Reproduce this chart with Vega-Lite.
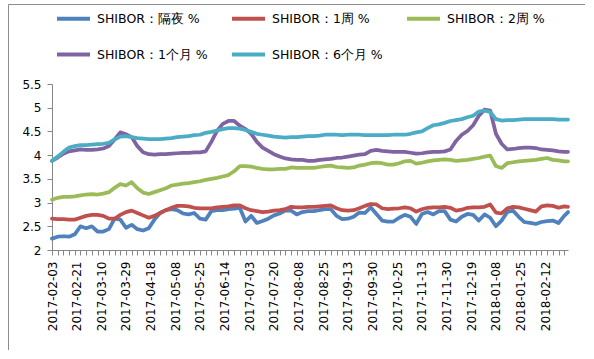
{
  "$schema": "https://vega.github.io/schema/vega-lite/v6.json",
  "width": 577,
  "height": 346,
  "autosize": "none",
  "padding": {"left": 8, "top": 4, "right": 0, "bottom": 0},
  "background": "white",
  "config": {
    "font": "DejaVu Sans",
    "view": {"stroke": "#8c8c8c", "strokeWidth": 1}
  },
  "data": {
    "values": [
      {"d": 0, "on": 2.24, "w1": 2.66, "w2": 3.06, "m1": 3.88, "m6": 3.88},
      {"d": 3, "on": 2.28, "w1": 2.65, "w2": 3.10, "m1": 3.95, "m6": 3.97},
      {"d": 6, "on": 2.29, "w1": 2.65, "w2": 3.12, "m1": 4.03, "m6": 4.07},
      {"d": 9, "on": 2.28, "w1": 2.64, "w2": 3.12, "m1": 4.08, "m6": 4.16},
      {"d": 12, "on": 2.33, "w1": 2.64, "w2": 3.13, "m1": 4.10, "m6": 4.19},
      {"d": 15, "on": 2.50, "w1": 2.68, "w2": 3.15, "m1": 4.12, "m6": 4.21},
      {"d": 18, "on": 2.46, "w1": 2.72, "w2": 3.17, "m1": 4.11, "m6": 4.21},
      {"d": 21, "on": 2.50, "w1": 2.74, "w2": 3.18, "m1": 4.11, "m6": 4.22},
      {"d": 24, "on": 2.39, "w1": 2.74, "w2": 3.17, "m1": 4.12, "m6": 4.23},
      {"d": 27, "on": 2.39, "w1": 2.72, "w2": 3.19, "m1": 4.14, "m6": 4.24},
      {"d": 30, "on": 2.44, "w1": 2.66, "w2": 3.22, "m1": 4.19, "m6": 4.26},
      {"d": 33, "on": 2.66, "w1": 2.66, "w2": 3.31, "m1": 4.33, "m6": 4.33},
      {"d": 36, "on": 2.64, "w1": 2.74, "w2": 3.39, "m1": 4.48, "m6": 4.39},
      {"d": 39, "on": 2.47, "w1": 2.80, "w2": 3.36, "m1": 4.44, "m6": 4.40},
      {"d": 42, "on": 2.53, "w1": 2.83, "w2": 3.43, "m1": 4.38, "m6": 4.38},
      {"d": 45, "on": 2.44, "w1": 2.78, "w2": 3.30, "m1": 4.19, "m6": 4.36},
      {"d": 48, "on": 2.41, "w1": 2.73, "w2": 3.21, "m1": 4.06, "m6": 4.35},
      {"d": 51, "on": 2.46, "w1": 2.68, "w2": 3.18, "m1": 4.02, "m6": 4.34},
      {"d": 54, "on": 2.64, "w1": 2.72, "w2": 3.22, "m1": 4.01, "m6": 4.34},
      {"d": 57, "on": 2.78, "w1": 2.78, "w2": 3.26, "m1": 4.02, "m6": 4.34},
      {"d": 60, "on": 2.84, "w1": 2.84, "w2": 3.30, "m1": 4.02, "m6": 4.35},
      {"d": 63, "on": 2.86, "w1": 2.89, "w2": 3.36, "m1": 4.03, "m6": 4.36},
      {"d": 66, "on": 2.84, "w1": 2.93, "w2": 3.38, "m1": 4.04, "m6": 4.38},
      {"d": 69, "on": 2.77, "w1": 2.93, "w2": 3.40, "m1": 4.05, "m6": 4.39},
      {"d": 72, "on": 2.75, "w1": 2.92, "w2": 3.41, "m1": 4.05, "m6": 4.40},
      {"d": 75, "on": 2.78, "w1": 2.89, "w2": 3.43, "m1": 4.06, "m6": 4.42},
      {"d": 78, "on": 2.66, "w1": 2.88, "w2": 3.45, "m1": 4.06, "m6": 4.43},
      {"d": 81, "on": 2.64, "w1": 2.88, "w2": 3.48, "m1": 4.08, "m6": 4.47},
      {"d": 84, "on": 2.82, "w1": 2.88, "w2": 3.50, "m1": 4.28, "m6": 4.49},
      {"d": 87, "on": 2.84, "w1": 2.90, "w2": 3.52, "m1": 4.51, "m6": 4.52},
      {"d": 90, "on": 2.84, "w1": 2.91, "w2": 3.55, "m1": 4.66, "m6": 4.55},
      {"d": 93, "on": 2.86, "w1": 2.92, "w2": 3.58, "m1": 4.72, "m6": 4.57},
      {"d": 96, "on": 2.87, "w1": 2.94, "w2": 3.66, "m1": 4.72, "m6": 4.57},
      {"d": 99, "on": 2.89, "w1": 2.94, "w2": 3.77, "m1": 4.62, "m6": 4.56},
      {"d": 102, "on": 2.60, "w1": 2.88, "w2": 3.77, "m1": 4.55, "m6": 4.53},
      {"d": 105, "on": 2.72, "w1": 2.84, "w2": 3.76, "m1": 4.45, "m6": 4.49},
      {"d": 108, "on": 2.57, "w1": 2.82, "w2": 3.73, "m1": 4.28, "m6": 4.45},
      {"d": 111, "on": 2.61, "w1": 2.80, "w2": 3.71, "m1": 4.16, "m6": 4.43},
      {"d": 114, "on": 2.66, "w1": 2.81, "w2": 3.70, "m1": 4.09, "m6": 4.41},
      {"d": 117, "on": 2.73, "w1": 2.83, "w2": 3.70, "m1": 4.02, "m6": 4.39},
      {"d": 120, "on": 2.77, "w1": 2.84, "w2": 3.71, "m1": 3.97, "m6": 4.38},
      {"d": 123, "on": 2.83, "w1": 2.86, "w2": 3.71, "m1": 3.93, "m6": 4.37},
      {"d": 126, "on": 2.83, "w1": 2.91, "w2": 3.74, "m1": 3.91, "m6": 4.38},
      {"d": 129, "on": 2.75, "w1": 2.90, "w2": 3.73, "m1": 3.90, "m6": 4.38},
      {"d": 132, "on": 2.80, "w1": 2.90, "w2": 3.73, "m1": 3.90, "m6": 4.39},
      {"d": 135, "on": 2.82, "w1": 2.91, "w2": 3.73, "m1": 3.88, "m6": 4.40},
      {"d": 138, "on": 2.82, "w1": 2.91, "w2": 3.73, "m1": 3.88, "m6": 4.40},
      {"d": 141, "on": 2.84, "w1": 2.92, "w2": 3.75, "m1": 3.90, "m6": 4.41},
      {"d": 144, "on": 2.86, "w1": 2.93, "w2": 3.77, "m1": 3.91, "m6": 4.43},
      {"d": 147, "on": 2.86, "w1": 2.94, "w2": 3.78, "m1": 3.92, "m6": 4.43},
      {"d": 150, "on": 2.72, "w1": 2.88, "w2": 3.75, "m1": 3.94, "m6": 4.43},
      {"d": 153, "on": 2.65, "w1": 2.84, "w2": 3.74, "m1": 3.95, "m6": 4.42},
      {"d": 156, "on": 2.66, "w1": 2.83, "w2": 3.73, "m1": 3.97, "m6": 4.43},
      {"d": 159, "on": 2.70, "w1": 2.84, "w2": 3.74, "m1": 3.99, "m6": 4.43},
      {"d": 162, "on": 2.79, "w1": 2.88, "w2": 3.78, "m1": 4.01, "m6": 4.43},
      {"d": 165, "on": 2.78, "w1": 2.93, "w2": 3.80, "m1": 4.02, "m6": 4.42},
      {"d": 168, "on": 2.90, "w1": 2.97, "w2": 3.83, "m1": 4.09, "m6": 4.42},
      {"d": 171, "on": 2.76, "w1": 2.96, "w2": 3.84, "m1": 4.11, "m6": 4.42},
      {"d": 174, "on": 2.62, "w1": 2.88, "w2": 3.83, "m1": 4.09, "m6": 4.42},
      {"d": 177, "on": 2.60, "w1": 2.86, "w2": 3.80, "m1": 4.08, "m6": 4.42},
      {"d": 180, "on": 2.60, "w1": 2.87, "w2": 3.80, "m1": 4.07, "m6": 4.43},
      {"d": 183, "on": 2.68, "w1": 2.88, "w2": 3.83, "m1": 4.07, "m6": 4.43},
      {"d": 186, "on": 2.74, "w1": 2.90, "w2": 3.87, "m1": 4.07, "m6": 4.43},
      {"d": 189, "on": 2.70, "w1": 2.88, "w2": 3.88, "m1": 4.05, "m6": 4.45},
      {"d": 192, "on": 2.55, "w1": 2.81, "w2": 3.82, "m1": 4.03, "m6": 4.48},
      {"d": 195, "on": 2.76, "w1": 2.86, "w2": 3.84, "m1": 4.04, "m6": 4.50},
      {"d": 198, "on": 2.80, "w1": 2.89, "w2": 3.87, "m1": 4.06, "m6": 4.57},
      {"d": 201, "on": 2.75, "w1": 2.90, "w2": 3.89, "m1": 4.07, "m6": 4.63},
      {"d": 204, "on": 2.82, "w1": 2.90, "w2": 3.90, "m1": 4.07, "m6": 4.65},
      {"d": 207, "on": 2.82, "w1": 2.91, "w2": 3.91, "m1": 4.08, "m6": 4.68},
      {"d": 210, "on": 2.64, "w1": 2.89, "w2": 3.90, "m1": 4.12, "m6": 4.72},
      {"d": 213, "on": 2.60, "w1": 2.83, "w2": 3.88, "m1": 4.30, "m6": 4.74},
      {"d": 216, "on": 2.70, "w1": 2.85, "w2": 3.89, "m1": 4.43, "m6": 4.76},
      {"d": 219, "on": 2.76, "w1": 2.89, "w2": 3.90, "m1": 4.51, "m6": 4.80},
      {"d": 222, "on": 2.74, "w1": 2.90, "w2": 3.92, "m1": 4.63, "m6": 4.83},
      {"d": 225, "on": 2.62, "w1": 2.90, "w2": 3.94, "m1": 4.83, "m6": 4.92},
      {"d": 228, "on": 2.75, "w1": 2.91, "w2": 3.97, "m1": 4.96, "m6": 4.94},
      {"d": 231, "on": 2.68, "w1": 2.96, "w2": 3.99, "m1": 4.94, "m6": 4.91},
      {"d": 234, "on": 2.50, "w1": 2.79, "w2": 3.77, "m1": 4.45, "m6": 4.76},
      {"d": 237, "on": 2.62, "w1": 2.77, "w2": 3.73, "m1": 4.24, "m6": 4.73},
      {"d": 240, "on": 2.80, "w1": 2.88, "w2": 3.83, "m1": 4.12, "m6": 4.74},
      {"d": 243, "on": 2.83, "w1": 2.91, "w2": 3.85, "m1": 4.13, "m6": 4.74},
      {"d": 246, "on": 2.70, "w1": 2.90, "w2": 3.87, "m1": 4.15, "m6": 4.75},
      {"d": 249, "on": 2.59, "w1": 2.87, "w2": 3.88, "m1": 4.16, "m6": 4.76},
      {"d": 252, "on": 2.57, "w1": 2.84, "w2": 3.89, "m1": 4.16, "m6": 4.76},
      {"d": 255, "on": 2.55, "w1": 2.81, "w2": 3.90, "m1": 4.15, "m6": 4.76},
      {"d": 258, "on": 2.59, "w1": 2.92, "w2": 3.92, "m1": 4.12, "m6": 4.76},
      {"d": 261, "on": 2.61, "w1": 2.94, "w2": 3.94, "m1": 4.11, "m6": 4.76},
      {"d": 264, "on": 2.62, "w1": 2.93, "w2": 3.90, "m1": 4.10, "m6": 4.76},
      {"d": 267, "on": 2.57, "w1": 2.89, "w2": 3.89, "m1": 4.08, "m6": 4.75},
      {"d": 270, "on": 2.72, "w1": 2.92, "w2": 3.87, "m1": 4.07, "m6": 4.75},
      {"d": 272, "on": 2.80, "w1": 2.91, "w2": 3.87, "m1": 4.07, "m6": 4.75}
    ]
  },
  "transform": [
    {"fold": ["on", "w1", "w2", "m1", "m6"], "as": ["series", "value"]}
  ],
  "encoding": {
    "y": {
      "field": "value",
      "type": "quantitative",
      "scale": {"domain": [2, 5.5], "range": [246, 80], "nice": false, "zero": false},
      "axis": {
        "values": [2, 2.5, 3, 3.5, 4, 4.5, 5, 5.5],
        "labelExpr": "'' + datum.value",
        "offset": -44,
        "grid": false,
        "title": null,
        "tickSize": 5,
        "tickColor": "#868686",
        "domainColor": "#868686",
        "labelPadding": 6,
        "labelFontSize": 12,
        "labelFont": "DejaVu Sans",
        "labelColor": "#000000"
      }
    }
  },
  "layer": [
    {
      "mark": {"type": "line", "strokeWidth": 3.75, "strokeJoin": "round", "strokeCap": "round"},
      "encoding": {
        "x": {
          "field": "d",
          "type": "quantitative",
          "scale": {"domain": [0, 272], "range": [44, 560], "nice": false, "zero": false},
          "axis": {
            "orient": "bottom",
            "offset": -100,
            "values": [0, 13, 26, 39, 52, 65, 78, 91, 104, 117, 130, 143, 156, 169, 182, 195, 208, 221, 234, 247, 260],
            "labelExpr": "['2017-02-03','2017-02-21','2017-03-10','2017-03-29','2017-04-18','2017-05-08','2017-05-25','2017-06-14','2017-07-03','2017-07-20','2017-08-08','2017-08-25','2017-09-13','2017-09-30','2017-10-25','2017-11-13','2017-11-30','2017-12-19','2018-01-08','2018-01-25','2018-02-12'][round(datum.value / 13)]",
            "labelAngle": 270,
            "labelAlign": "right",
            "labelBaseline": "middle",
            "ticks": false,
            "tickSize": 0,
            "domain": false,
            "grid": false,
            "title": null,
            "labelPadding": 11,
            "labelFontSize": 12,
            "labelFont": "DejaVu Sans",
            "labelColor": "#000000",
            "labelOverlap": false,
            "labelBound": false,
            "labelFlush": false
          }
        },
        "color": {
          "field": "series",
          "type": "nominal",
          "scale": {
            "domain": ["on", "w1", "w2", "m1", "m6"],
            "range": ["#4F81BD", "#C0504D", "#9BBB59", "#8064A2", "#4BACC6"]
          },
          "legend": {
            "orient": "none",
            "legendX": 47,
            "legendY": -4,
            "columns": 3,
            "direction": "horizontal",
            "title": null,
            "symbolType": "stroke",
            "symbolStrokeWidth": 4,
            "symbolSize": 1089,
            "labelFontSize": 12.5,
            "labelFont": "DejaVu Sans",
            "labelColor": "#000000",
            "labelOffset": 5,
            "columnPadding": 16,
            "rowPadding": 9,
            "labelLimit": 300,
            "labelExpr": "{'on':'SHIBOR：隔夜 %','w1':'SHIBOR：1周 %','w2':'SHIBOR：2周 %','m1':'SHIBOR：1个月 %','m6':'SHIBOR：6个月 %'}[datum.label]"
          }
        }
      }
    },
    {
      "mark": {"type": "line", "opacity": 0},
      "encoding": {
        "x": {
          "field": "d",
          "type": "quantitative",
          "scale": {"domain": [0, 272], "range": [44, 560], "nice": false, "zero": false},
          "axis": {
            "orient": "bottom",
            "offset": -100,
            "values": [0, 3, 6, 9, 12, 15, 18, 21, 24, 27, 30, 33, 36, 39, 42, 45, 48, 51, 54, 57, 60, 63, 66, 69, 72, 75, 78, 81, 84, 87, 90, 93, 96, 99, 102, 105, 108, 111, 114, 117, 120, 123, 126, 129, 132, 135, 138, 141, 144, 147, 150, 153, 156, 159, 162, 165, 168, 171, 174, 177, 180, 183, 186, 189, 192, 195, 198, 201, 204, 207, 210, 213, 216, 219, 222, 225, 228, 231, 234, 237, 240, 243, 246, 249, 252, 255, 258, 261, 264, 267, 270],
            "labels": false,
            "ticks": true,
            "tickSize": 5,
            "tickColor": "#868686",
            "domainColor": "#868686",
            "grid": false,
            "title": null
          }
        },
        "detail": {"field": "series", "type": "nominal"}
      }
    }
  ],
  "resolve": {"scale": {"x": "independent"}, "axis": {"x": "independent"}}
}
